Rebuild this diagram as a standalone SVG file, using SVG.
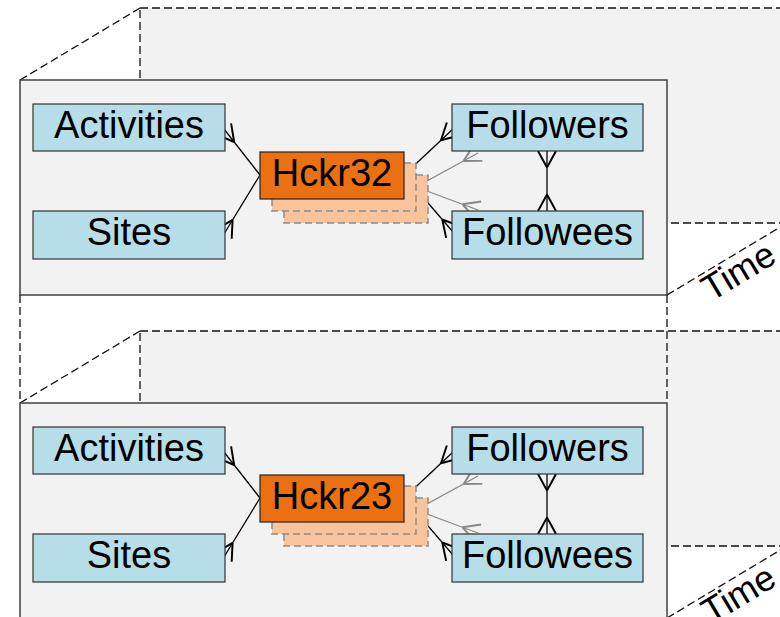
<svg xmlns="http://www.w3.org/2000/svg" width="780" height="617" viewBox="0 0 780 617">
<style>
.back{fill:#f2f2f2;stroke:#111;stroke-width:1.3;stroke-dasharray:8,4}
.dash{fill:none;stroke:#111;stroke-width:1.3;stroke-dasharray:8,4}
.front{fill:#f2f2f2;stroke:#404040;stroke-width:1.5}
.ent{fill:#b7dde8;stroke:#333;stroke-width:1.2}
.hck{fill:#eb7012;stroke:#222;stroke-width:1.2}
.shd{fill:#f9c49b;stroke:#8c8c8c;stroke-width:1.5;stroke-dasharray:7,4}
.lbl{font-family:"Liberation Sans",Arial,sans-serif;font-size:38px;fill:#000;text-anchor:middle}
.time{font-family:"Liberation Sans",Arial,sans-serif;font-size:36px;fill:#000}
.cb{fill:none;stroke:#000;stroke-width:1.3}
.cg{fill:none;stroke:#888;stroke-width:1.3}
</style>
<defs>
<marker id="crowB" markerUnits="userSpaceOnUse" markerWidth="24" markerHeight="24" viewBox="-14 -8 16 16" refX="0" refY="0" orient="auto-start-reverse" overflow="visible">
<path d="M-11,0 L0,-6 M-11,0 L0,6" fill="none" stroke="#000" stroke-width="1.3"/>
</marker>
<marker id="crowG" markerUnits="userSpaceOnUse" markerWidth="24" markerHeight="24" viewBox="-14 -8 16 16" refX="0" refY="0" orient="auto-start-reverse" overflow="visible">
<path d="M-11,0 L0,-6 M-11,0 L0,6" fill="none" stroke="#888" stroke-width="1.3"/>
</marker>
</defs>
<rect width="780" height="617" fill="#fff"/>

<g id="panel-1">
<rect class="back" x="140" y="8" width="660" height="215"/>
<line class="dash" x1="20" y1="80" x2="140" y2="8"/>
<line class="dash" x1="667" y1="295" x2="787" y2="223"/>
<rect class="front" x="20" y="80" width="647" height="215"/>
<text class="time" transform="translate(711,302) rotate(-31)">Time</text>
</g>

<g id="panel-2">
<rect class="back" x="140" y="331" width="660" height="215"/>
<line class="dash" x1="20" y1="403" x2="140" y2="331"/>
<line class="dash" x1="667" y1="618" x2="787" y2="546"/>
<rect class="front" x="20" y="403" width="647" height="240"/>
<text class="time" transform="translate(711,625) rotate(-31)">Time</text>
</g>

<g id="panel-links">
<line class="dash" x1="20" y1="295" x2="20" y2="403"/>
<line class="dash" x1="667" y1="295" x2="667" y2="403"/>
</g>

<g id="connectors">
<g id="connectors-1">
<path class="cb" d="M260,175 L224,129" marker-end="url(#crowB)"/>
<path class="cb" d="M260,175 L224,234" marker-end="url(#crowB)"/>
<path class="cb" d="M404,175 L453,129" marker-end="url(#crowB)"/>
<path class="cb" d="M404,175 L453,232" marker-end="url(#crowB)"/>
<path class="cg" d="M416,187 L478,153" marker-end="url(#crowG)"/>
<path class="cg" d="M416,187 L478,210" marker-end="url(#crowG)"/>
<path class="cb" d="M547,151 L547,211" marker-start="url(#crowB)" marker-end="url(#crowB)"/>
</g>
<g id="connectors-2">
<path class="cb" d="M260,498 L224,452" marker-end="url(#crowB)"/>
<path class="cb" d="M260,498 L224,557" marker-end="url(#crowB)"/>
<path class="cb" d="M404,498 L453,452" marker-end="url(#crowB)"/>
<path class="cb" d="M404,498 L453,555" marker-end="url(#crowB)"/>
<path class="cg" d="M416,510 L478,476" marker-end="url(#crowG)"/>
<path class="cg" d="M416,510 L478,533" marker-end="url(#crowG)"/>
<path class="cb" d="M547,474 L547,534" marker-start="url(#crowB)" marker-end="url(#crowB)"/>
</g>
</g>

<g id="activities-1"><rect class="ent" x="33" y="104" width="192" height="47"/><text class="lbl" x="129" y="138">Activities</text></g>
<g id="sites-1"><rect class="ent" x="33" y="211" width="192" height="48"/><text class="lbl" x="129" y="245">Sites</text></g>
<g id="followers-1"><rect class="ent" x="452" y="104" width="191" height="47"/><text class="lbl" x="547.5" y="138">Followers</text></g>
<g id="followees-1"><rect class="ent" x="452" y="211" width="191" height="48"/><text class="lbl" x="547.5" y="245">Followees</text></g>
<g id="hckr32">
<rect class="shd" x="284" y="175" width="144" height="48"/>
<rect class="shd" x="272" y="163" width="144" height="48"/>
<rect class="hck" x="260" y="152" width="144" height="47"/>
<text class="lbl" x="332" y="186">Hckr32</text>
</g>

<g id="activities-2"><rect class="ent" x="33" y="427" width="192" height="47"/><text class="lbl" x="129" y="461">Activities</text></g>
<g id="sites-2"><rect class="ent" x="33" y="534" width="192" height="48"/><text class="lbl" x="129" y="568">Sites</text></g>
<g id="followers-2"><rect class="ent" x="452" y="427" width="191" height="47"/><text class="lbl" x="547.5" y="461">Followers</text></g>
<g id="followees-2"><rect class="ent" x="452" y="534" width="191" height="48"/><text class="lbl" x="547.5" y="568">Followees</text></g>
<g id="hckr23">
<rect class="shd" x="284" y="498" width="144" height="48"/>
<rect class="shd" x="272" y="486" width="144" height="48"/>
<rect class="hck" x="260" y="475" width="144" height="47"/>
<text class="lbl" x="332" y="509">Hckr23</text>
</g>
</svg>
